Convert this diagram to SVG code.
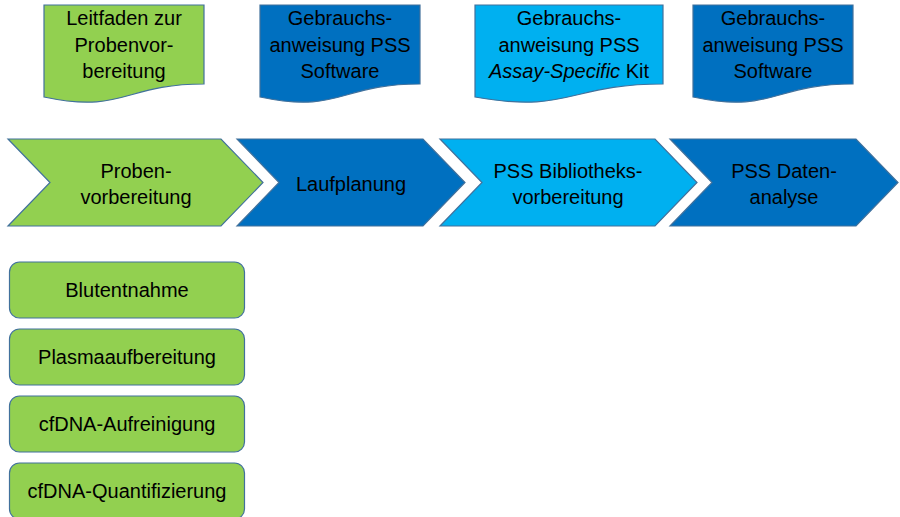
<svg xmlns="http://www.w3.org/2000/svg" width="900" height="517" viewBox="0 0 900 517">
<style>
text{font-family:"Liberation Sans",Arial,sans-serif;font-size:20px;fill:#000;text-anchor:middle}
.sh{stroke:#41719C;stroke-width:1.2}
.g{fill:#92D050}.d{fill:#0070C0}.l{fill:#00B0F0}
</style>
<rect width="900" height="517" fill="#fff"/>
<g id="doc1"><path class="sh g" d="M44,5H204V84C124,84 124,114 44,97Z"/>
<text x="124" y="25">Leitfaden zur</text><text x="124" y="52">Probenvor-</text><text x="124" y="78">bereitung</text></g>
<g id="doc2"><path class="sh d" d="M260,5H420V84C340,84 340,114 260,97Z"/>
<text x="340" y="25">Gebrauchs-</text><text x="340" y="52">anweisung PSS</text><text x="340" y="78">Software</text></g>
<g id="doc3"><path class="sh l" d="M475,5H663V84C569,84 569,114 475,97Z"/>
<text x="569" y="25">Gebrauchs-</text><text x="569" y="52">anweisung PSS</text><text x="569" y="78"><tspan font-style="italic">Assay-Specific</tspan> Kit</text></g>
<g id="doc4"><path class="sh d" d="M693,5H853V84C773,84 773,114 693,97Z"/>
<text x="773" y="25">Gebrauchs-</text><text x="773" y="52">anweisung PSS</text><text x="773" y="78">Software</text></g>
<g id="step1"><polygon class="sh g" points="8,139 221,139 263,182.5 221,226 8,226 50,182.5"/>
<text x="136" y="178">Proben-</text><text x="136" y="204">vorbereitung</text></g>
<g id="step2"><polygon class="sh d" points="237,139 423,139 465,182.5 423,226 237,226 279,182.5"/>
<text x="351" y="191">Laufplanung</text></g>
<g id="step3"><polygon class="sh l" points="440,139 655,139 697,182.5 655,226 440,226 482,182.5"/>
<text x="568" y="178">PSS Bibliotheks-</text><text x="568" y="204">vorbereitung</text></g>
<g id="step4"><polygon class="sh d" points="670,139 856,139 898,182.5 856,226 670,226 712,182.5"/>
<text x="784" y="178">PSS Daten-</text><text x="784" y="204">analyse</text></g>
<g id="box1"><rect class="sh g" x="9.5" y="262" width="235" height="56" rx="10"/><text x="127" y="297">Blutentnahme</text></g>
<g id="box2"><rect class="sh g" x="9.5" y="329" width="235" height="56" rx="10"/><text x="127" y="364">Plasmaaufbereitung</text></g>
<g id="box3"><rect class="sh g" x="9.5" y="396" width="235" height="56" rx="10"/><text x="127" y="431">cfDNA-Aufreinigung</text></g>
<g id="box4"><rect class="sh g" x="9.5" y="463" width="235" height="56" rx="10"/><text x="127" y="498">cfDNA-Quantifizierung</text></g>
<g id="connectors"/>
</svg>
